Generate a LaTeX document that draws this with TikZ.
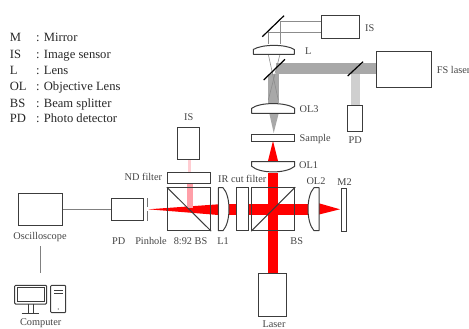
\documentclass[tikz,border=0pt]{standalone}
\usepackage{fontspec}
\setmainfont{Liberation Serif}
\usetikzlibrary{fit}
\definecolor{ink}{HTML}{3C3C3C}
\definecolor{txt}{HTML}{444444}
\definecolor{beamred}{HTML}{FF0000}
\definecolor{beampink}{HTML}{FF9FA8}
\definecolor{beampale}{HTML}{FFCDD2}
\definecolor{beamgray}{HTML}{A8A8A8}
\definecolor{beamlight}{HTML}{CFCFCF}
\tikzset{
  boxs/.style={draw=ink,line width=1pt,fill=none,inner sep=0pt,rectangle},
  optic/.style={draw=ink,line width=1pt,fill=white,line join=round},
  mirrorline/.style={draw=black,line width=1.2pt},
  thinray/.style={draw=black!45,line width=.6pt},
  wire/.style={draw=black!50,line width=.7pt},
  lbl/.style={text=txt,font=\fontsize{10.3}{11}\selectfont,inner sep=0pt},
  lgd/.style={text=black!85,font=\fontsize{12.6}{13}\selectfont,inner sep=0pt,anchor=base west},
}
\begin{document}
\begin{tikzpicture}[x=1pt,y=-1pt]
\useasboundingbox (0,0) rectangle (469,329);
% beams
\fill[beamred] (267.7,173) rectangle (278.3,273.3);
\fill[beamred] (228,203.5) rectangle (308,214.5);
\fill[beamred] (148.3,209.3) -- (218.3,204.3) -- (218.3,215) -- cycle;
\fill[beamred] (319,203.3) -- (340,209.3) -- (319,214.5) -- cycle;
\fill[beamred] (273,141) -- (267.7,162) -- (278.3,162) -- cycle;
\fill[beampale] (188.2,159.5) rectangle (191.2,172.3);
\fill[beampink] (187.3,183.3) rectangle (192.7,208);
\fill[beamgray] (276,63.3) rectangle (376.3,74);
\fill[beamgray] (268.3,74) rectangle (279,102.7);
\fill[beamgray] (269.3,113.3) -- (278.7,113.3) -- (273.7,133) -- cycle;
\fill[beamlight] (350.7,74) rectangle (360,106);
% thin rays
\draw[thinray] (280,21.7) -- (321,21.7);
\draw[thinray] (268,32.3) -- (321,32.3);
\draw[thinray] (280,21.7) -- (280,44);
\draw[thinray] (268,32.3) -- (268,44);
\draw[thinray] (268.3,54.3) -- (278.3,100);
\draw[thinray] (280,54.3) -- (268.3,100);
% mirrors
\draw[mirrorline] (262.3,36.7) -- (284,15.7);
\draw[mirrorline] (263.7,80) -- (285,59.3);
\draw[mirrorline] (347.7,76) -- (363,61.7);
% boxes
\node[boxs,fit={(321,16)(359,39)}] (isTop) {};
\node[boxs,fit={(376.3,51.3)(431,87.7)}] (fsLaser) {};
\node[boxs,fit={(347.7,106)(362.7,131.3)}] (pdTop) {};
\node[boxs,fill=white,fit={(251.7,134.3)(294.7,141)}] (sample) {};
\node[boxs,fit={(177.7,127.3)(199.7,159.3)}] (isLeft) {};
\node[boxs,fill=white,fit={(167.3,172.3)(210,183.3)}] (ndFilter) {};
\node[boxs,fit={(167.3,187.7)(210.7,230.7)}] (bsLeft) {};
\node[boxs,fit={(251.7,187.7)(294.7,230.7)}] (bsMain) {};
\node[boxs,fill=white,fit={(236.5,187.7)(248.2,230.7)}] (irFilter) {};
\node[boxs,fill=white,fit={(341.3,188.7)(346.3,231)}] (mTwo) {};
\node[boxs,fit={(111,198.7)(143.7,220)}] (pdLeft) {};
\node[boxs,fit={(258.7,273.3)(286.7,316.7)}] (laser) {};
\node[boxs,fit={(18.7,193.3)(62,225)}] (scope) {};
\draw[draw=ink,line width=1pt] (bsLeft.north west) -- (bsLeft.south east);
\draw[draw=ink,line width=1pt] (bsMain.south west) -- (bsMain.north east);
% pinhole
\draw[draw=black!55,line width=.7pt] (147.3,198.3) -- (147.3,207.3) (147.3,211) -- (147.3,220.7);
% lenses
\draw[optic] (253.3,54.3) -- (294.3,54.3) -- (294.3,49.5) .. controls (286,44) and (262,44) .. (253.3,49.5) -- cycle;
\draw[optic] (251.7,113.3) -- (294.7,113.3) -- (294.7,108.3) .. controls (286,102) and (260,102) .. (251.7,108.3) -- cycle;
\draw[optic] (251.7,161.5) -- (294.7,161.5) -- (294.7,166.3) .. controls (286,173.8) and (260,173.8) .. (251.7,166.3) -- cycle;
\draw[optic] (218.3,187.7) -- (218.3,230.7) -- (223,230.7) .. controls (231,222) and (231,196) .. (223,187.7) -- cycle;
\draw[optic] (319,187.7) -- (319,230.7) -- (314,230.7) .. controls (306,222) and (306,196) .. (314,187.7) -- cycle;
% computer
\draw[line width=1pt,draw=ink,rounded corners=1pt] (14.7,285.3) rectangle (46.7,304);
\draw[line width=.8pt,draw=ink] (17,287.5) rectangle (44.4,301.5);
\draw[line width=.8pt,draw=ink] (28.3,304) -- (28.3,312.5) (33.3,304) -- (33.3,312.5) (21.7,313) -- (39.3,313);
\node[boxs,rounded corners=1pt,fit={(50.7,285.3)(65.7,312.7)}] (computer) {};
\draw[line width=.8pt,draw=ink] (54,290.5) -- (62.5,290.5) (54,293.5) -- (62.5,293.5);
\fill[ink] (58.3,309) circle (.6);
% connectors
\draw[wire] (scope.east |- pdLeft.west) -- (pdLeft.west);
\coordinate (oscDown) at (40.7,246);
\coordinate (pcUp) at (40.7,273.3);
\draw[wire] (oscDown) -- (pcUp);
% labels
\node[lbl,anchor=west] (tIS1) at (365,28) {IS};
\node[lbl,anchor=west] (tL) at (305,51) {L};
\node[lbl,anchor=west] (tFS) at (436.7,70) {FS laser};
\node[lbl] (tPD1) at (355.3,140.5) {PD};
\node[lbl,anchor=west] (tOL3) at (299.5,109.5) {OL3};
\node[lbl,anchor=west] (tSample) at (299.5,139) {Sample};
\node[lbl,anchor=west] (tOL1) at (299,165) {OL1};
\node[lbl] (tOL2) at (316,181) {OL2};
\node[lbl] (tM2) at (344.5,181.7) {M2};
\node[lbl] (tIS2) at (188.7,117.5) {IS};
\node[lbl,anchor=east] (tND) at (162.3,177) {ND filter};
\node[lbl,anchor=west] (tIR) at (218,179) {IR cut filter};
\node[lbl] (tPD2) at (118.7,241) {PD};
\node[lbl] (tPin) at (151,241) {Pinhole};
\node[lbl] (tBS1) at (190.5,241) {8:92 BS};
\node[lbl] (tL1) at (223,241) {L1};
\node[lbl] (tBS2) at (296.7,241.5) {BS};
\node[lbl] (tLaser) at (274,324.5) {Laser};
\node[lbl] (tOsc) at (40,237) {Oscilloscope};
\node[lbl] (tPC) at (40.7,323.5) {Computer};
% legend
\node[lgd] (a1) at (9.7,42) {M};   \node[lgd] (b1) at (36,42) {: Mirror};
\node[lgd] (a2) at (9.7,58.5) {IS};  \node[lgd] (b2) at (36,58.5) {: Image sensor};
\node[lgd] (a3) at (9.7,74.5) {L};   \node[lgd] (b3) at (36,74.5) {: Lens};
\node[lgd] (a4) at (9.7,91) {OL};  \node[lgd] (b4) at (36,91) {: Objective Lens};
\node[lgd] (a5) at (9.7,107) {BS}; \node[lgd] (b5) at (36,107) {: Beam splitter};
\node[lgd] (a6) at (9.7,123) {PD}; \node[lgd] (b6) at (36,123) {: Photo detector};
\end{tikzpicture}
\end{document}
